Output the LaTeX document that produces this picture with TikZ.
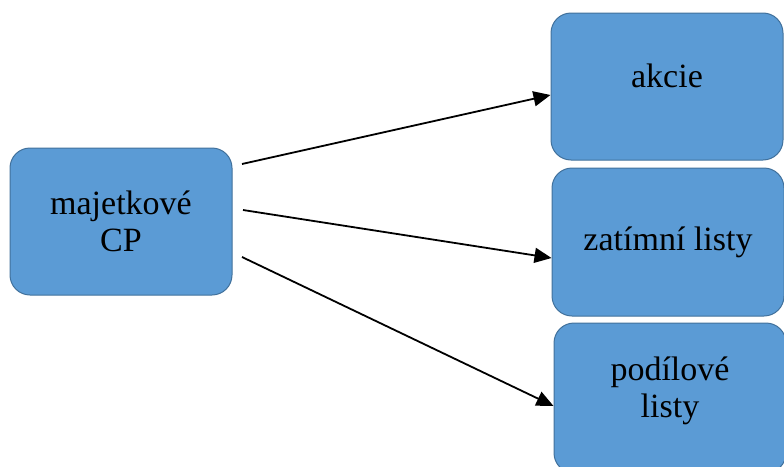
\documentclass[tikz,border=0pt]{standalone}
\usepackage{fontspec}
\setmainfont{Liberation Serif}
\usetikzlibrary{arrows.meta}
\definecolor{boxfill}{HTML}{5B9BD5}
\definecolor{boxline}{HTML}{41719C}
\tikzset{
  box/.style={draw=boxline, line width=1pt, fill=boxfill, rounded corners=20pt,
    inner sep=0pt, align=center, font=\fontsize{34}{37}\selectfont},
  conn/.style={line width=1.8pt, -{Triangle[length=17pt,width=15pt]}}
}
\begin{document}
\begin{tikzpicture}[x=1pt,y=-1pt]
\useasboundingbox (0,0) rectangle (784,466);
\clip (0,0) rectangle (784,466);
\node[box, minimum width=222pt, minimum height=147pt] (maj) at (121,221.5) {majetkové\\CP};
\node[box, minimum width=232pt, minimum height=147pt] (akc) at (667,86.5) {\raisebox{11pt}[\height][\depth]{akcie}};
\node[box, minimum width=232pt, minimum height=148pt] (zat) at (668,242) {zatímní listy};
\node[box, minimum width=232pt, minimum height=150pt] (pod) at (670,398) {podílové\\listy\\[-16pt]};
\coordinate (s1) at (242,164);
\coordinate (s2) at (243,210);
\coordinate (s3) at (242,257);
\coordinate (e1) at (akc.west |- 0,95);
\coordinate (e2) at (zat.west |- 0,258);
\coordinate (e3) at (pod.west |- 0,406);
\draw[conn] (s1) -- (e1);
\draw[conn] (s2) -- (e2);
\draw[conn] (s3) -- (e3);
\end{tikzpicture}
\end{document}
